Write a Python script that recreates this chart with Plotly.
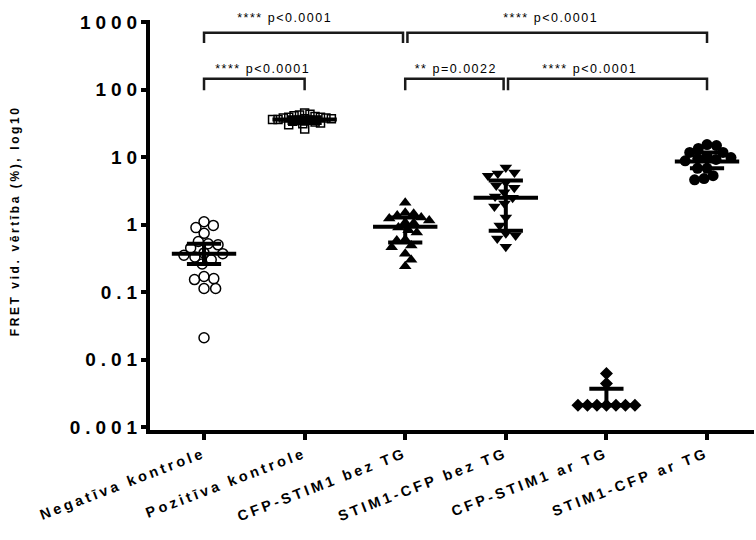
import numpy as np
import plotly.graph_objects as go

# ---------------- data ----------------
categories = ["Negatīva kontrole", "Pozitīva kontrole", "CFP-STIM1 bez TG",
              "STIM1-CFP bez TG", "CFP-STIM1 ar TG", "STIM1-CFP ar TG"]

neg_control = [1.1, 0.97, 0.9, 0.74, 0.56, 0.52, 0.5, 0.45, 0.38, 0.37, 0.35, 0.33,
               0.3, 0.26, 0.17, 0.158, 0.153, 0.113, 0.113, 0.021]
pos_control = [45, 43, 42, 41, 40, 39, 39, 38, 38, 37, 37, 36, 36, 35, 35, 34, 33,
               32, 31, 30, 26]
cfp_stim1_no_tg = [2.1, 1.5, 1.45, 1.36, 1.27, 1.23, 1.15, 1.07, 1.05, 0.9, 0.82,
                   0.76, 0.6, 0.58, 0.49, 0.46, 0.37, 0.3, 0.24]
stim1_cfp_no_tg = [7.0, 5.9, 5.7, 5.3, 4.2, 3.8, 3.5, 3.0, 2.6, 2.5, 2.05, 1.85, 1.27,
                   0.97, 0.74, 0.69, 0.62, 0.47]
cfp_stim1_tg = [0.0062, 0.0044, 0.0021, 0.0021, 0.0021, 0.0021, 0.0021, 0.0021, 0.0021]
stim1_cfp_tg = [15.3, 14.8, 13.4, 11.7, 11.7, 10.2, 9.8, 9.5, 9.2, 8.8, 6.8, 6.8,
                5.3, 4.8, 4.6]

medians = [0.37, 36, 0.93, 2.5, 0.0021, 8.6]
lower_bar = [0.26, 32, 0.54, 0.81, 0.0021, 6.8]
upper_bar = [0.52, 39, 1.27, 4.5, 0.0037, 11.7]

y_tick_values = [0.001, 0.01, 0.1, 1, 10, 100, 1000]
y_tick_labels = ["0.001", "0.01", "0.1", "1", "10", "100", "1000"]

comparisons = [(0, 2, "**** p<0.0001"), (2, 5, "**** p<0.0001"),
               (0, 1, "**** p<0.0001"), (2, 3, "** p=0.0022"), (3, 5, "**** p<0.0001")]

groups = [neg_control, pos_control, cfp_stim1_no_tg, stim1_cfp_no_tg, cfp_stim1_tg, stim1_cfp_tg]

# ---------------- layout constants ----------------
W, H = 756, 540
ML, MR, MT, MB = 150, 2, 20, 110
X_RANGE = [-0.537, 5.467]
Y_RANGE = [-3.044, 3.03]
PX_PER_CAT = (W - ML - MR) / (X_RANGE[1] - X_RANGE[0])
PX_PER_DEC = (H - MT - MB) / (Y_RANGE[1] - Y_RANGE[0])
FONT = "Arial, 'Liberation Sans', sans-serif"

styles = [
    dict(symbol="circle-open", size=10, color="black", line=dict(width=1.5, color="black")),
    dict(symbol="square-open", size=8, color="black", line=dict(width=1.5, color="black")),
    dict(symbol="triangle-up", size=11, color="black", line=dict(width=0)),
    dict(symbol="triangle-down", size=11, color="black", line=dict(width=0)),
    dict(symbol="diamond", size=10, color="black", line=dict(width=0)),
    dict(symbol="circle", size=11, color="black", line=dict(width=0)),
]
spacing_px = [10.0, 5.5, 8.5, 10.0, 9.5, 9.5]


def beeswarm_offsets(vals, d):
    """Place each point at the horizontal offset nearest the centre that does not overlap."""
    py = np.log10(np.asarray(vals, dtype=float)) * PX_PER_DEC
    order = np.argsort(-py, kind="stable")
    placed = []
    off = np.zeros(len(vals))
    flip = 1
    for i in order:
        intervals = []
        for (xj, yj) in placed:
            dy = abs(py[i] - yj)
            if dy < d:
                w = np.sqrt(d * d - dy * dy)
                intervals.append((xj - w, xj + w))
        cands = [0.0] + [e for iv in intervals for e in iv]
        ok = [c for c in cands if all(not (lo + 1e-6 < c < hi - 1e-6) for lo, hi in intervals)]
        best = min(abs(c) for c in ok)
        choices = [c for c in ok if abs(abs(c) - best) < 1e-6]
        if len(choices) > 1:
            x = max(choices) if flip > 0 else min(choices)
            flip = -flip
        else:
            x = choices[0]
        placed.append((x, py[i]))
        off[i] = x / PX_PER_CAT
    return off


fig = go.Figure()

for gi, vals in enumerate(groups):
    off = beeswarm_offsets(vals, spacing_px[gi])
    fig.add_trace(go.Scatter(
        x=gi + off, y=vals, mode="markers", marker=styles[gi],
        showlegend=False, hoverinfo="skip", cliponaxis=False))

# median + range bars
MED_HALF, CAP_HALF = 0.32, 0.17
bx, by = [], []
for gi in range(len(categories)):
    bx += [gi - MED_HALF, gi + MED_HALF, None]
    by += [medians[gi], medians[gi], None]
    bx += [gi, gi, None]
    by += [lower_bar[gi], upper_bar[gi], None]
    for v in (lower_bar[gi], upper_bar[gi]):
        bx += [gi - CAP_HALF, gi + CAP_HALF, None]
        by += [v, v, None]
fig.add_trace(go.Scatter(x=bx, y=by, mode="lines", line=dict(color="black", width=4),
                         showlegend=False, hoverinfo="skip", cliponaxis=False))

# significance brackets
levels = [0, 0, 1, 1, 1]
line_log = [2.84, 2.16]
end_log = [2.69, 1.99]
text_log = [2.93, 2.17]
text_shift = [-0.2, -0.06, 0.08, 0.0, -0.17]
INSET = 0.022
annotations = []
for ci, (a, b, label) in enumerate(comparisons):
    lv = levels[ci]
    same = [(c[0], c[1]) for k, c in enumerate(comparisons) if levels[k] == lv and k != ci]
    x0 = a + (INSET if any(e == a for _, e in same) else 0)
    x1 = b - (INSET if any(s == b for s, _ in same) else 0)
    ytop, yend = 10 ** line_log[lv], 10 ** end_log[lv]
    fig.add_trace(go.Scatter(x=[x0, x0, x1, x1], y=[yend, ytop, ytop, yend], mode="lines",
                             line=dict(color="#1a1a1a", width=2.5), showlegend=False,
                             hoverinfo="skip", cliponaxis=False))
    annotations.append(dict(x=(a + b) / 2 + text_shift[ci], y=text_log[lv], xref="x", yref="y",
                            text=label, showarrow=False, xanchor="center", yanchor="bottom",
                            font=dict(family=FONT, size=12.5, color="black")))

annotations.append(dict(x=0, y=0.51, xref="paper", yref="paper", xshift=-135,
                        text="FRET vid. vērtība (%), log10", textangle=-90, showarrow=False,
                        xanchor="center", yanchor="middle",
                        font=dict(family=FONT, size=12, color="black", weight="bold")))

fig.update_layout(
    width=W, height=H, margin=dict(l=ML, r=MR, t=MT, b=MB),
    paper_bgcolor="white", plot_bgcolor="white", showlegend=False,
    annotations=annotations,
    xaxis=dict(range=X_RANGE, tickvals=list(range(len(categories))), ticktext=categories,
               tickangle=-21, showgrid=False, zeroline=False, showline=True, linewidth=4,
               linecolor="black", ticks="outside", ticklen=6, tickwidth=4, tickcolor="black",
               automargin=False,
               tickfont=dict(family=FONT, size=14.5, color="black", weight="bold")),
    yaxis=dict(type="log", range=Y_RANGE, tickvals=y_tick_values, ticktext=y_tick_labels,
               showgrid=False, zeroline=False, showline=True, linewidth=4, linecolor="black",
               ticks="outside", ticklen=5, tickwidth=4, tickcolor="black", automargin=False,
               ticklabelstandoff=-5,
               tickfont=dict(family=FONT, size=19, color="black", weight="bold")),
)

post = """
document.body.style.margin='0';
document.querySelectorAll('.ytick text').forEach(function(t){t.style.letterSpacing='5px';});
document.querySelectorAll('.xtick text').forEach(function(t){t.style.letterSpacing='3.2px';});
document.querySelectorAll('.annotation text').forEach(function(t){t.style.letterSpacing='1.5px';});
document.querySelectorAll('.annotation[data-index="5"] text').forEach(function(t){t.style.letterSpacing='2.6px';});
"""

fig.write_html("out.html", post_script=post, config={"displayModeBar": False})
